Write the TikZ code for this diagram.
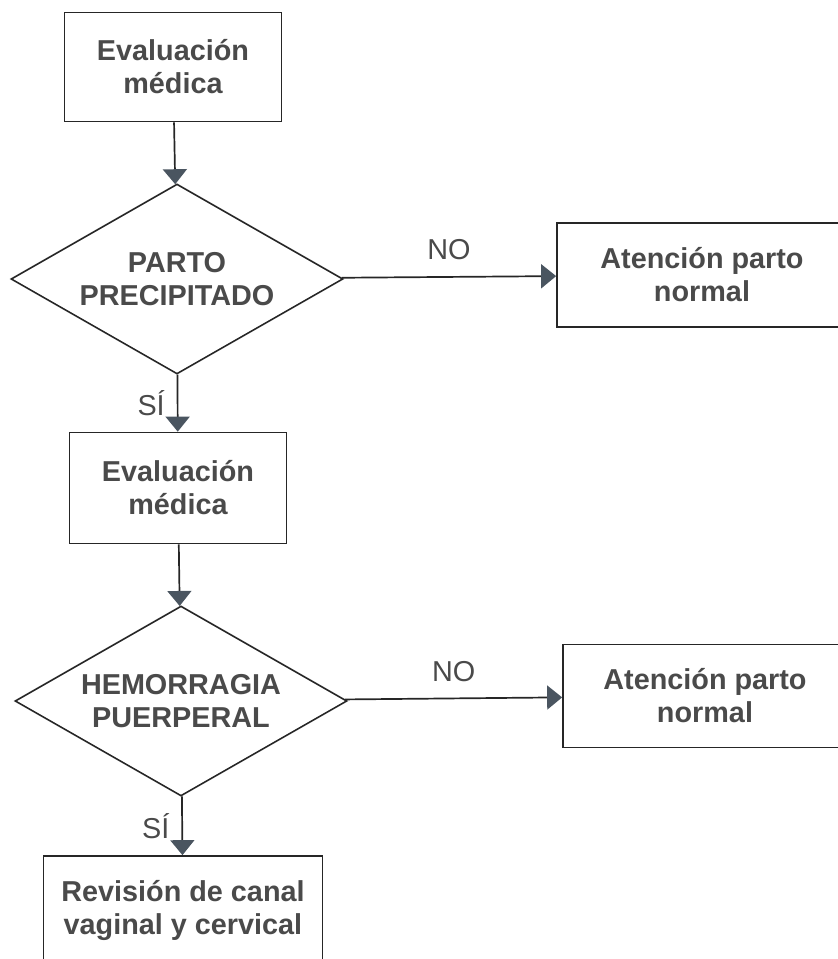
\documentclass[tikz,border=0pt]{standalone}
\usepackage{fontspec}
\setmainfont{Liberation Sans}
\usepackage{tikz}
\usetikzlibrary{positioning, arrows.meta, shapes.geometric}
\usepackage{xcolor}
\definecolor{txtgrey}{HTML}{4A4A4A}
\definecolor{linegrey}{HTML}{262626}
\definecolor{tipgrey}{HTML}{4A5560}

\begin{document}
\begin{tikzpicture}[
    x=0.5pt, y=-0.5pt,
    box/.style={rectangle, draw=linegrey, line width=0.85pt, text=txtgrey, align=center, inner sep=0pt,
        font=\fontsize{14.4pt}{16.5pt}\selectfont\bfseries},
    decision/.style={diamond, aspect=1.75, draw=linegrey, line width=0.8pt, text=txtgrey, align=center, inner sep=0pt,
        minimum width=166pt, minimum height=95pt, font=\fontsize{14.4pt}{16.5pt}\selectfont\bfseries},
    arrow/.style={-{Triangle[width=12pt, length=7.5pt, color=tipgrey]}, line width=0.85pt, draw=linegrey},
    answer/.style={text=txtgrey, inner sep=0pt, font=\fontsize{14.4pt}{16.5pt}\selectfont}
]
\useasboundingbox (0,0) rectangle (838,959);
\clip (0,0) rectangle (838,959);

% First evaluation
\node (eval1) [box, minimum width=108.5pt, minimum height=54.5pt] at (173,67) {Evaluación\\médica};

% Decision: precipitated delivery
\node (parto) [decision] at (177,279) {PARTO\\PRECIPITADO};

\node (normal1) [box, minimum width=145pt, minimum height=52pt] at (702,275) {Atención parto\\normal};

% Second evaluation
\node (eval2) [box, minimum width=108.5pt, minimum height=55.5pt] at (178,488) {Evaluación\\médica};

% Decision: postpartum haemorrhage
\node (hemorragia) [decision] at (181,701) {HEMORRAGIA\\PUERPERAL};

\node (normal2) [box, minimum width=142pt, minimum height=51.5pt] at (705,696) {Atención parto\\normal};

% Final step
\node (revision) [box, minimum width=139.5pt, minimum height=54pt] at (183,910) {Revisión de canal\\vaginal y cervical};

% Connecting arrows
\draw [arrow] (eval1) -- (parto);
\draw [arrow] (parto) -- node[answer, above=8pt] {NO} (normal1);
\draw [arrow] (parto) -- node[answer, left=6pt] {SÍ} (eval2);
\draw [arrow] (eval2) -- (hemorragia);
\draw [arrow] (hemorragia) -- node[answer, above=8pt] {NO} (normal2);
\draw [arrow] (hemorragia) -- node[answer, left=6pt] {SÍ} (revision);

\end{tikzpicture}
\end{document}
